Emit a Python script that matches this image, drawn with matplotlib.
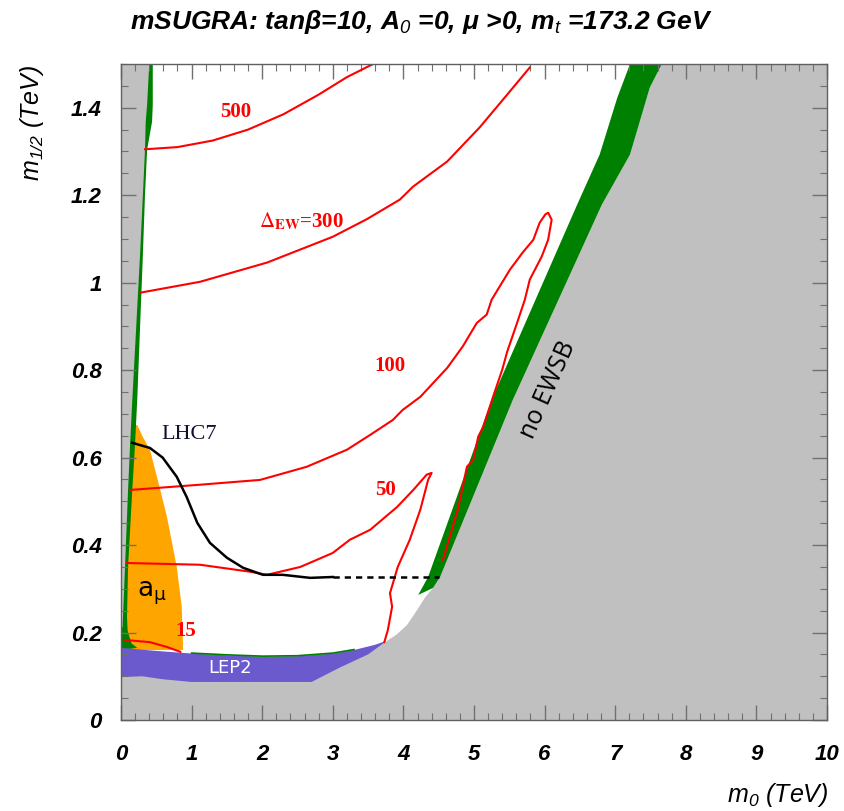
import numpy as np
import matplotlib
matplotlib.use('Agg')
import matplotlib.pyplot as plt
from matplotlib.ticker import MultipleLocator, FormatStrFormatter

plt.rcParams['font.family'] = ['Liberation Sans', 'DejaVu Sans']
plt.rcParams['mathtext.fontset'] = 'custom'
plt.rcParams['mathtext.rm'] = 'Liberation Sans:italic'
plt.rcParams['mathtext.it'] = 'Liberation Sans:italic'
plt.rcParams['mathtext.bf'] = 'Liberation Sans:italic:bold'

# --- regions (m0, m1/2 in TeV) ---
# no EWSB boundary (right edge of green band), top -> bottom
noewsb_x = [7.66, 7.49, 7.21, 6.81, 5.55, 4.52, 4.42, 4.31, 4.18, 4.05, 3.90, 3.74]
noewsb_y = [1.50, 1.446, 1.293, 1.178, 0.732, 0.327, 0.302, 0.281, 0.248, 0.217, 0.195, 0.178]
# left edge of green band, top -> bottom
band_x = [7.21, 7.03, 6.78, 6.46, 5.25, 4.35, 4.21]
band_y = [1.50, 1.423, 1.293, 1.178, 0.732, 0.327, 0.286]

# left strip (tachyonic / stau LSP) and its green edge
strip_y = [1.50, 1.407, 1.368, 1.304, 1.201, 1.064, 0.732, 0.634, 0.526, 0.350, 0.236, 0.183]
strip_gray_x = [0.40, 0.37, 0.35, 0.34, 0.31, 0.27, 0.16, 0.13, 0.10, 0.057, 0.028, 0.014]
strip_green_x = [0.45, 0.45, 0.44, 0.37, 0.34, 0.31, 0.23, 0.20, 0.16, 0.10, 0.085, 0.10]
blob_x = [0.0, 0.0, 0.06, 0.10, 0.15, 0.23]
blob_y = [0.16, 0.21, 0.215, 0.20, 0.175, 0.165]

# LEP2 excluded band
lep_top_x = [0.0, 0.5, 1.0, 1.5, 2.0, 2.5, 3.0, 3.3, 3.6, 3.74]
lep_top_y = [0.165, 0.158, 0.152, 0.148, 0.145, 0.146, 0.152, 0.160, 0.172, 0.180]
lep_bot_x = [0.0, 0.3, 0.6, 1.0, 2.0, 2.7, 3.1, 3.5, 3.74]
lep_bot_y = [0.098, 0.100, 0.093, 0.087, 0.087, 0.087, 0.12, 0.15, 0.178]

# a_mu favoured region
amu_x = [0.0, 0.0, 0.15, 0.23, 0.30, 0.41, 0.55, 0.65, 0.79, 0.86, 0.88]
amu_y = [0.16, 0.60, 0.67, 0.675, 0.65, 0.618, 0.53, 0.465, 0.35, 0.26, 0.16]

# Delta_EW contours
dew500_x = [0.34, 0.8, 1.3, 1.8, 2.3, 2.8, 3.2, 3.57]
dew500_y = [1.305, 1.31, 1.325, 1.35, 1.385, 1.43, 1.47, 1.50]
dew300_x = [0.27, 1.12, 2.07, 3.00, 3.48, 3.95, 4.14, 4.62, 5.08, 5.47, 5.79]
dew300_y = [0.977, 1.002, 1.046, 1.105, 1.145, 1.19, 1.22, 1.277, 1.355, 1.43, 1.492]
dew100_x = [0.13, 1.12, 1.97, 2.63, 3.20, 3.53, 3.85, 3.99, 4.24, 4.62, 4.84, 5.04, 5.18, 5.25,
            5.51, 5.69, 5.84, 5.93, 6.01, 6.05, 6.10, 6.05, 5.96, 5.79, 5.72, 5.61, 5.47, 5.40,
            5.27, 5.13, 5.06, 4.99, 4.90, 4.77, 4.63, 4.56]
dew100_y = [0.526, 0.538, 0.549, 0.579, 0.618, 0.652, 0.686, 0.709, 0.739, 0.805, 0.854, 0.908,
            0.927, 0.961, 1.03, 1.069, 1.098, 1.137, 1.156, 1.16, 1.144, 1.098, 1.06, 1.007, 0.961,
            0.908, 0.842, 0.801, 0.739, 0.670, 0.648, 0.595, 0.579, 0.481, 0.405, 0.366]
dew50_x = [0.085, 1.12, 1.83, 2.07, 2.54, 3.00, 3.24, 3.53, 3.91, 4.14, 4.33, 4.40, 4.35, 4.24,
           4.09, 3.92, 3.81, 3.84, 3.78, 3.73]
dew50_y = [0.359, 0.355, 0.339, 0.332, 0.35, 0.382, 0.412, 0.435, 0.487, 0.526, 0.561, 0.565,
           0.549, 0.481, 0.412, 0.35, 0.29, 0.259, 0.206, 0.178]
dew15_x = [0.06, 0.41, 0.65, 0.84]
dew15_y = [0.183, 0.178, 0.167, 0.156]

# LHC7 reach
lhc_x = [0.156, 0.41, 0.59, 0.79, 0.93, 1.08, 1.26, 1.50, 1.73, 2.01, 2.29, 2.68, 3.00]
lhc_y = [0.634, 0.622, 0.60, 0.556, 0.51, 0.451, 0.405, 0.371, 0.348, 0.332, 0.332, 0.325, 0.327]
lhc_ext_x = [3.00, 4.50]
lhc_ext_y = [0.327, 0.327]

GRAY = '#c0c0c0'
GREEN = '#008000'
ORANGE = '#ffa500'
PURPLE = '#6a5acd'

fig = plt.figure(figsize=(8.44, 8.11), dpi=100)
ax = fig.add_axes([121 / 844, 1 - 720 / 811, 706 / 844, 656 / 811])

# no EWSB region + bottom gray (purple band drawn on top)
gx = noewsb_x + [3.0, 0.0, 0.0, 10.0, 10.0]
gy = noewsb_y + [0.14, 0.14, 0.0, 0.0, 1.5]
ax.fill(gx, gy, color=GRAY, lw=0)
# green band
ax.fill(band_x + noewsb_x[::-1][5:], band_y + noewsb_y[::-1][5:], color=GREEN, lw=0)

# a_mu region (drawn before the left strip)
ax.fill(amu_x, amu_y, color=ORANGE, lw=0)

# left strip
ax.fill([0.0] + strip_green_x + [0.0], [1.5] + strip_y + [0.16], color=GREEN, lw=0)
ax.fill([0.0] + strip_gray_x + [0.0], [1.5] + strip_y + [0.16], color=GRAY, lw=0)
ax.fill(blob_x, blob_y, color=GREEN, lw=0)

# LEP2
ax.fill(lep_top_x + lep_bot_x[::-1], lep_top_y + lep_bot_y[::-1], color=PURPLE, lw=0)
ax.plot(lep_top_x[2:8], np.array(lep_top_y[2:8]) + 0.001, color=GREEN, lw=1.2)

# contours
for cx, cy in [(dew500_x, dew500_y), (dew300_x, dew300_y), (dew100_x, dew100_y),
               (dew50_x, dew50_y), (dew15_x, dew15_y)]:
    ax.plot(cx, cy, color='red', lw=1.5)

ax.plot(lhc_x, lhc_y, color='black', lw=1.8)
ax.plot(lhc_ext_x, lhc_ext_y, color='black', lw=1.8, ls=(0, (2.5, 2)))

# labels
serif = ['Liberation Serif', 'DejaVu Serif']
ax.text(1.62, 1.39, '500', color='red', fontsize=15, fontweight='bold', family=serif,
        ha='center', va='center')
ax.text(2.55, 1.14, r'$\Delta_{\mathbf{EW}}$=300', color='red', fontsize=15, fontweight='bold',
        family=serif, math_fontfamily='stix', ha='center', va='center')
ax.text(3.81, 0.81, '100', color='red', fontsize=15, fontweight='bold', family=serif,
        ha='center', va='center')
ax.text(3.74, 0.527, '50', color='red', fontsize=15, fontweight='bold', family=serif,
        ha='center', va='center')
ax.text(0.92, 0.203, '15', color='red', fontsize=15, fontweight='bold', family=serif,
        ha='center', va='center')
ax.text(0.57, 0.652, 'LHC7', color='#101030', fontsize=16, family=serif, ha='left', va='center')
ax.text(0.22, 0.29, r'a$_{\mathrm{μ}}$', color='black', fontsize=19, family=['DejaVu Sans'],
        math_fontfamily='dejavusans', ha='left', va='center')
ax.text(1.55, 0.12, 'LEP2', color='white', fontsize=13, family=['DejaVu Sans'],
        ha='center', va='center')
ax.text(6.05, 0.755, 'no EWSB', color='black', fontsize=18, family=['Open Sans', 'DejaVu Sans'],
        rotation=66, ha='center', va='center')

ax.set_xlim(0, 10)
ax.set_ylim(0, 1.5)
ax.xaxis.set_major_locator(MultipleLocator(1))
ax.xaxis.set_minor_locator(MultipleLocator(0.2))
ax.yaxis.set_major_locator(MultipleLocator(0.2))
ax.yaxis.set_minor_locator(MultipleLocator(0.05))
ax.xaxis.set_major_formatter(FormatStrFormatter('%g'))
ax.yaxis.set_major_formatter(FormatStrFormatter('%g'))
ax.tick_params(which='both', direction='in', top=True, right=True, color='#707070')
ax.tick_params(which='major', length=11, width=1.0)
ax.tick_params(which='minor', length=5, width=0.8)
ax.tick_params(axis='x', which='major', pad=17, labelsize=16)
ax.tick_params(axis='y', which='major', pad=14, labelsize=16)
for lab in ax.get_xticklabels() + ax.get_yticklabels():
    lab.set_fontweight('bold')
    lab.set_fontstyle('italic')
for sp in ax.spines.values():
    sp.set_color('#606060')
    sp.set_linewidth(1.0)

fig.text(421 / 844, 1 - 22 / 811, r'mSUGRA: tanβ=10, A$_0$ =0, μ >0, m$_t$ =173.2 GeV',
         fontsize=19, fontstyle='italic', fontweight='bold',
         family=['Liberation Sans Narrow', 'Liberation Sans'], ha='center', va='center')
fig.text(828 / 844, 1 - 795 / 811, r'm$_0$ (TeV)', fontsize=18, fontstyle='italic',
         ha='right', va='center')
fig.text(32 / 844, 1 - 123 / 811, r'm$_{1/2}$ (TeV)', fontsize=18, fontstyle='italic',
         rotation=90, ha='center', va='center')

fig.savefig('out.png', dpi=100)
